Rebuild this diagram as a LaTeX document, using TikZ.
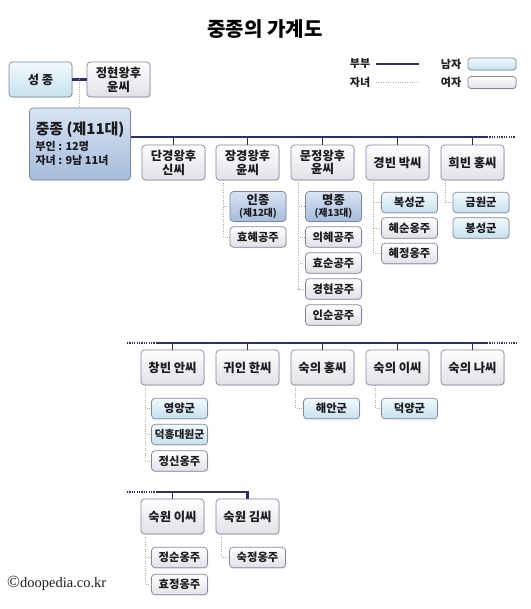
\documentclass[tikz,border=0pt]{standalone}
\usepackage{fontspec}
\newfontfamily\kr{Noto Sans CJK KR}
\newfontfamily\serifcr{Liberation Serif}
\usetikzlibrary{calc,shadows}
\definecolor{navy}{RGB}{44,48,112}
\definecolor{kidgray}{RGB}{175,175,175}
\definecolor{bordc}{RGB}{128,134,160}
\definecolor{mtop}{RGB}{242,249,253}
\definecolor{mbot}{RGB}{198,225,238}
\definecolor{ftop}{RGB}{255,255,255}
\definecolor{fbot}{RGB}{224,224,231}
\definecolor{ktop}{RGB}{216,228,243}
\definecolor{kbot}{RGB}{166,188,218}
\definecolor{txt}{RGB}{28,28,32}
\tikzset{
  basebox/.style={draw=bordc, line width=0.7pt, rounded corners=3.5pt, align=center, inner sep=0.5pt, text=txt,
    drop shadow={opacity=0.18, shadow xshift=0.8pt, shadow yshift=-0.8pt}},
  male/.style={basebox, top color=mtop, bottom color=mbot},
  female/.style={basebox, top color=ftop, bottom color=fbot},
  king/.style={basebox, top color=ktop, bottom color=kbot},
  bigbox/.style={minimum width=63pt, minimum height=35pt, font=\kr\bfseries\fontsize{12.3}{13.8}\selectfont},
  kidbox/.style={minimum width=56pt, minimum height=20.5pt, font=\kr\bfseries\fontsize{11.3}{12}\selectfont},
  spouse/.style={draw=navy, line width=2.2pt},
  spousedot/.style={draw=navy, line width=1.8pt, dash pattern=on 1.1pt off 1.3pt},
  tickln/.style={draw=navy, line width=1.8pt},
  kid/.style={draw=kidgray, line width=0.8pt, dash pattern=on 1pt off 1.4pt},
  legtxt/.style={font=\kr\bfseries\fontsize{11}{12}\selectfont, text=txt, inner sep=0pt},
}
\begin{document}
\begin{tikzpicture}[x=1pt,y=-1pt]
\useasboundingbox[fill=white] (0,0) rectangle (530,609);

% title
\node[font=\kr\bfseries\fontsize{20}{23}\selectfont, text=black] (title) at (265,29) {중종의 가계도};

% legend
\node[legtxt] (lgspouse) at (360,64) {부부};
\node[legtxt] (lgkid) at (360,82) {자녀};
\coordinate (lgs1) at (376,64); \coordinate (lgs2) at (419,64);
\coordinate (lgk1) at (376,82); \coordinate (lgk2) at (419,82);
\draw[spouse] (lgs1) -- (lgs2);
\draw[kid] (lgk1) -- (lgk2);
\node[legtxt] (lgmaletxt) at (451,64) {남자};
\node[legtxt] (lgfemtxt) at (451,82) {여자};
\node[male, minimum width=48pt, minimum height=12pt, rounded corners=3pt] (lgmale) at (492,64) {};
\node[female, minimum width=48pt, minimum height=12pt, rounded corners=3pt] (lgfem) at (492,82.5) {};

% top generation
\node[male, bigbox] (seongjong) at (40.5,79.5) {성 종};
\node[female, bigbox] (jeonghyeon) at (118.5,79.5) {정현왕후\\윤씨};
\draw[spouse] (seongjong.east) -- (jeonghyeon.west);
\coordinate (sjmid) at ($(seongjong.east)!0.5!(jeonghyeon.west)$);

\node[king, minimum width=96pt, minimum height=72pt, align=left, inner xsep=6pt,
      font=\kr\bfseries\fontsize{11}{14}\selectfont] (jungjong) at (80,144)
  {{\fontsize{15}{17}\selectfont 중종 (제11대)}\\[2pt]부인 : 12명\\자녀 : 9남 11녀};
\draw[kid] (sjmid) -- (sjmid |- jungjong.north);

% row 1
\coordinate (r1end) at (487,137);
\coordinate (r1dot) at (515,137);
\coordinate (r1start) at (jungjong.east |- r1end);
\draw[spouse] (r1start) -- (r1end);
\draw[spousedot] (r1end) -- (r1dot);

\node[female, bigbox] (dankyung) at (173.5,162.5) {단경왕후\\신씨};
\node[female, bigbox] (jangkyung) at (247.5,162.5) {장경왕후\\윤씨};
\node[female, bigbox] (munjeong) at (322.5,162.5) {문정왕후\\윤씨};
\node[female, bigbox] (gyeongbin) at (397.5,162.5) {경빈 박씨};
\node[female, bigbox] (huibin) at (472.5,162.5) {희빈 홍씨};
\foreach \n in {dankyung,jangkyung,munjeong,gyeongbin,huibin}
  \draw[tickln] (\n.north |- r1end) -- (\n.north);

% children row 1
\node[king, kidbox, minimum height=30pt, font=\kr\bfseries\fontsize{12.3}{12.5}\selectfont] (injong) at (258,206.5) {인종\\{\fontsize{9.8}{11}\selectfont (제12대)}};
\node[female, kidbox] (hyohye) at (258,237) {효혜공주};
\coordinate (k2) at ($(jangkyung.south west)+(8,0)$);
\draw[kid] (k2) |- (injong.west);
\draw[kid] (k2) |- (hyohye.west);

\node[king, kidbox, minimum height=30pt, font=\kr\bfseries\fontsize{12.3}{12.5}\selectfont] (myeongjong) at (333.5,206.5) {명종\\{\fontsize{9.8}{11}\selectfont (제13대)}};
\node[female, kidbox] (uihye) at (333.5,237) {의혜공주};
\node[female, kidbox] (hyosun) at (333.5,263) {효순공주};
\node[female, kidbox] (gyeonghyeon) at (333.5,289) {경현공주};
\node[female, kidbox] (insun) at (333.5,315) {인순공주};
\coordinate (k3) at ($(munjeong.south west)+(8,0)$);
\foreach \c in {myeongjong,uihye,hyosun,gyeonghyeon}
  \draw[kid] (k3) |- (\c.west);

\node[male, kidbox] (bokseong) at (409.5,202.5) {복성군};
\node[female, kidbox] (hyesun) at (409.5,228) {혜순옹주};
\node[female, kidbox] (hyejeong) at (409.5,253.5) {혜정옹주};
\coordinate (k4) at ($(gyeongbin.south west)+(8,0)$);
\foreach \c in {bokseong,hyesun,hyejeong}
  \draw[kid] (k4) |- (\c.west);

\node[male, kidbox] (geumwon) at (481,202.5) {금원군};
\node[male, kidbox] (bongseong) at (481,228) {봉성군};
\coordinate (k5) at ($(huibin.south west)+(5,0)$);
\draw[kid] (k5) |- (geumwon.west);

% row 2
\coordinate (r2a) at (127,343); \coordinate (r2b) at (156,343);
\coordinate (r2c) at (487,343); \coordinate (r2d) at (516,343);
\draw[spousedot] (r2a) -- (r2b);
\draw[spouse] (r2b) -- (r2c);
\draw[spousedot] (r2c) -- (r2d);

\node[female, bigbox] (changbin) at (172.5,367.5) {창빈 안씨};
\node[female, bigbox] (gwiin) at (247.5,367.5) {귀인 한씨};
\node[female, bigbox] (sukuihong) at (322.5,367.5) {숙의 홍씨};
\node[female, bigbox] (sukuilee) at (397.5,367.5) {숙의 이씨};
\node[female, bigbox] (sukuina) at (472.5,367.5) {숙의 나씨};
\foreach \n in {changbin,gwiin,sukuihong,sukuilee,sukuina}
  \draw[tickln] (\n.north |- r2a) -- (\n.north);

\node[male, kidbox] (yeongyang) at (179.5,408.5) {영양군};
\node[male, kidbox, font=\kr\bfseries\fontsize{10.8}{12}\selectfont] (deokheung) at (179.5,434.5) {덕흥대원군};
\node[female, kidbox] (jeongsin) at (179.5,461) {정신옹주};
\coordinate (k6) at ($(changbin.south west)+(5,0)$);
\foreach \c in {yeongyang,deokheung,jeongsin}
  \draw[kid] (k6) |- (\c.west);

\node[male, kidbox] (haean) at (331.5,408.5) {해안군};
\coordinate (k7) at ($(sukuihong.south west)+(5,0)$);
\draw[kid] (k7) |- (haean.west);

\node[male, kidbox] (deokyang) at (409.5,408.5) {덕양군};
\coordinate (k8) at ($(sukuilee.south west)+(10,0)$);
\draw[kid] (k8) |- (deokyang.west);

% row 3
\coordinate (r3a) at (127,492); \coordinate (r3b) at (157,492);
\node[female, bigbox] (sukwonlee) at (172.5,516.5) {숙원 이씨};
\node[female, bigbox] (sukwonkim) at (247.5,516.5) {숙원 김씨};
\draw[spousedot] (r3a) -- (r3b);
\draw[spouse] (r3b) -- (sukwonkim.north |- r3b) -- (sukwonkim.north);
\draw[tickln] (sukwonlee.north |- r3b) -- (sukwonlee.north);

\node[female, kidbox] (jeongsun) at (179.5,557.5) {정순옹주};
\node[female, kidbox] (hyojeong) at (179.5,584.5) {효정옹주};
\coordinate (k9) at ($(sukwonlee.south west)+(5,0)$);
\draw[kid] (k9) |- (jeongsun.west);
\draw[kid] (k9) |- (hyojeong.west);

\node[female, kidbox] (sukjeong) at (257.5,557.5) {숙정옹주};
\coordinate (k10) at ($(sukwonkim.south west)+(6,0)$);
\draw[kid] (k10) |- (sukjeong.west);

% copyright
\node[anchor=west, inner sep=0pt, font=\serifcr\fontsize{14.5}{16}\selectfont, text=txt] (copy) at (7,583) {{\fontsize{17}{16}\selectfont ©}doopedia.co.kr};
\end{tikzpicture}
\end{document}
